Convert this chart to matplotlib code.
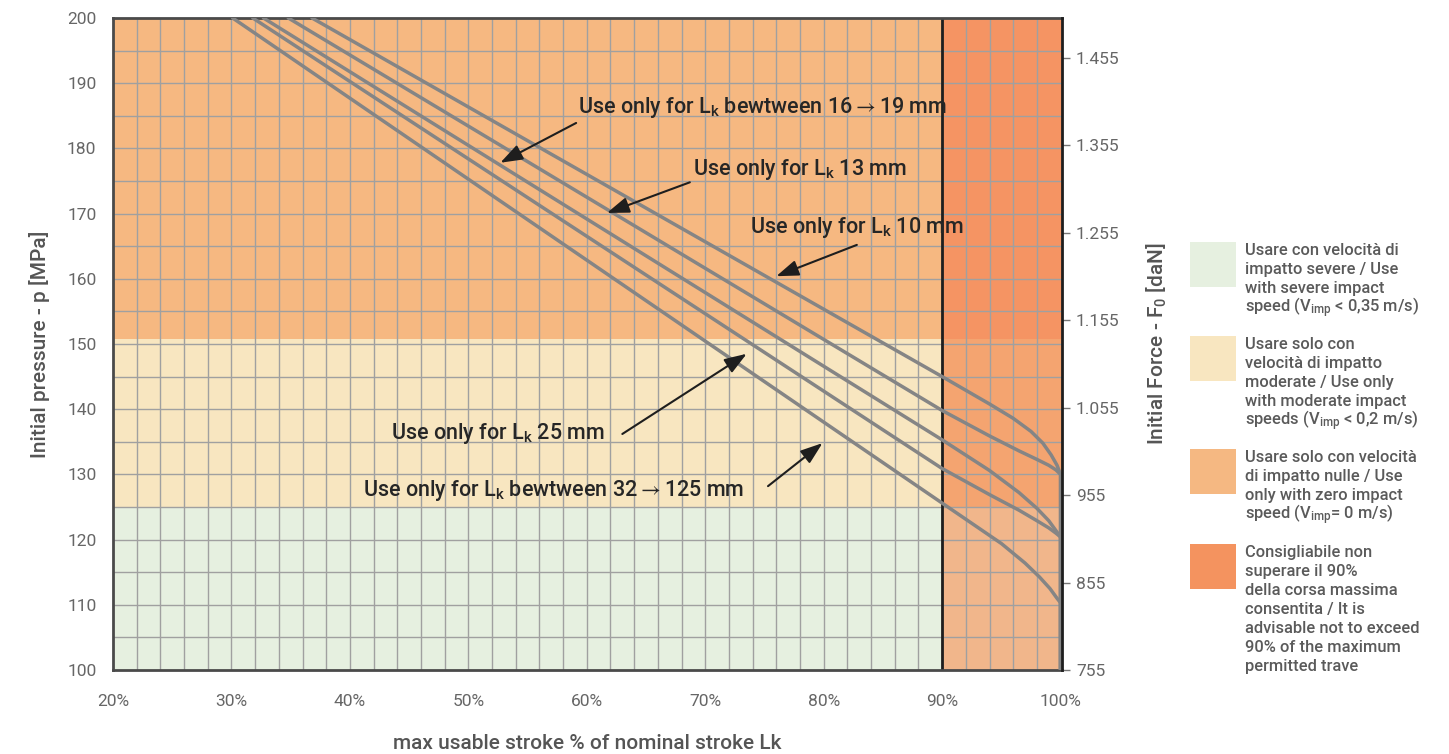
import matplotlib
matplotlib.use('Agg')
import matplotlib.pyplot as plt

plt.rcParams['font.family'] = ['Roboto', 'DejaVu Sans']
plt.rcParams['mathtext.fontset'] = 'custom'
plt.rcParams['mathtext.rm'] = 'Roboto'
plt.rcParams['mathtext.it'] = 'Roboto'
plt.rcParams['mathtext.bf'] = 'Roboto:bold'
plt.rcParams['mathtext.fallback'] = 'stixsans'

# ---------------- data ----------------
band_bounds = [100, 125, 150.7, 200]
band_colors = ['#E6F0E0', '#F8E6C0', '#F6B881']
over90_colors = ['#F1B68B', '#F4A470', '#F59463']

x_ticks = [20, 30, 40, 50, 60, 70, 80, 90, 100]
x_ticklabels = ['20%', '30%', '40%', '50%', '60%', '70%', '80%', '90%', '100%']
y_ticks = [100, 110, 120, 130, 140, 150, 160, 170, 180, 190, 200]
force_ticks = [755, 855, 955, 1055, 1155, 1255, 1355, 1455]
force_ticklabels = ['755', '855', '955', '1.055', '1.155', '1.255', '1.355', '1.455']
force_at_100 = 755
force_at_200 = 1500.75

# curves: stroke % vs initial pressure
c10_x = [36.8, 90, 94, 96, 97.5, 98.5, 99.2, 99.7, 100, 100]
c10_p = [200, 145.0, 140.8, 138.6, 136.6, 134.8, 133.0, 131.4, 130.0, 100]
c13_x = [34.8, 90, 94, 96.5, 98, 99, 99.6, 100, 100]
c13_p = [200, 139.8, 135.9, 133.6, 132.3, 131.4, 130.7, 130.0, 100]
c16_x = [32.7, 90, 94, 96.5, 98, 99, 99.6, 100, 100]
c16_p = [200, 135.3, 130.6, 127.2, 124.8, 122.9, 121.4, 120.4, 100]
c25_x = [31.8, 90, 94, 96.5, 98, 99, 99.6, 100, 100]
c25_p = [200, 130.9, 126.9, 124.5, 122.9, 121.8, 121.0, 120.4, 100]
c32_x = [30.1, 90, 95, 97, 98.2, 99.1, 99.7, 100, 100]
c32_p = [200, 125.6, 119.4, 116.4, 114.3, 112.5, 111.0, 110.3, 100]
curves = [(c10_x, c10_p), (c13_x, c13_p), (c16_x, c16_p), (c25_x, c25_p), (c32_x, c32_p)]

ann_texts = [r'Use only for L$_\mathregular{k}$ bewtween 16$\rightarrow$19 mm',
             r'Use only for L$_\mathregular{k}$ 13 mm',
             r'Use only for L$_\mathregular{k}$ 10 mm',
             r'Use only for L$_\mathregular{k}$ 25 mm',
             r'Use only for L$_\mathregular{k}$ bewtween 32$\rightarrow$125 mm']
ann_text_pos = [(59.3, 186.3), (69.0, 176.7), (73.8, 167.9), (43.5, 136.3), (41.1, 127.6)]
ann_tail = [(59.1, 183.9), (68.7, 174.8), (82.8, 165.2), (63.0, 136.2), (75.3, 128.2)]
ann_tip = [(52.7, 177.8), (61.7, 170.1), (76.0, 160.4), (73.5, 148.5), (79.9, 134.8)]

legend_colors = ['#E6F0E0', '#F8E6C0', '#F5B882', '#F4935F']
legend_lines = [
    ['Usare con velocità di', 'impatto severe / Use', 'with severe impact',
     r'speed (V$_\mathregular{imp}$ < 0,35 m/s)'],
    ['Usare solo con', 'velocità di impatto', 'moderate / Use only', 'with moderate impact',
     r'speeds (V$_\mathregular{imp}$ < 0,2 m/s)'],
    ['Usare solo con velocità', 'di impatto nulle / Use', 'only with zero impact',
     r'speed (V$_\mathregular{imp}$= 0 m/s)'],
    ['Consigliabile non', 'superare il 90%', 'della corsa massima', 'consentita / It is',
     'advisable not to exceed', '90% of the maximum', 'permitted trave'],
]
legend_top_px = [242, 336, 449, 544]

# ---------------- figure ----------------
W, H = 1449, 754
fig = plt.figure(figsize=(W / 100, H / 100), dpi=100)
ax = fig.add_axes([113 / W, 1 - 670 / H, (1062 - 113) / W, (670 - 18) / H])
ax.set_xlim(20, 100.12)
ax.set_ylim(100, 200)

# colour bands
for i in range(3):
    ax.fill_between([20, 90], band_bounds[i], band_bounds[i + 1], color=band_colors[i], lw=0, zorder=0)
    ax.fill_between([90, 100.12], band_bounds[i], band_bounds[i + 1], color=over90_colors[i], lw=0, zorder=0)

# grid
for gx in range(22, 100, 2):
    ax.axvline(gx, color='#a0a0a0', lw=1.0, zorder=1)
for gy in range(105, 200, 5):
    ax.axhline(gy, color='#a0a0a0', lw=1.0, zorder=1)
ax.axvline(90, color='#1e1e1e', lw=2.0, zorder=2)

for cx, cp in curves:
    ax.plot(cx, cp, color='#858585', lw=2.5, solid_joinstyle='round', solid_capstyle='round', zorder=3)

for txt, tp, tl, tip in zip(ann_texts, ann_text_pos, ann_tail, ann_tip):
    ax.text(tp[0], tp[1], txt, fontsize=15.5, fontweight='medium', color='#262626', va='center', ha='left', zorder=5)
    ax.annotate('', xy=tip, xytext=tl,
                arrowprops=dict(arrowstyle='-|>,head_length=0.9,head_width=0.32', color='#1e1e1e', lw=1.5,
                                mutation_scale=15, shrinkA=0, shrinkB=0), zorder=5)

ax.set_xticks(x_ticks)
ax.set_xticklabels(x_ticklabels)
ax.set_yticks(y_ticks)
ax.tick_params(axis='x', length=0, pad=17, labelsize=12.5, labelcolor='#666666')
ax.tick_params(axis='y', length=0, pad=12, labelsize=12.5, labelcolor='#666666')
for s in ['left', 'bottom', 'top']:
    ax.spines[s].set_color('#4a4a4a')
    ax.spines[s].set_linewidth(2.0)
ax.spines['right'].set_visible(False)

ax.set_xlabel('max usable stroke % of nominal stroke Lk', fontsize=15, fontweight='medium',
              color='#555555', labelpad=18)
ax.set_ylabel('Initial pressure - p [MPa]', fontsize=15, fontweight='medium', color='#555555', labelpad=12)

ax2 = ax.twinx()
ax2.set_ylim(force_at_100, force_at_200)
ax2.set_yticks(force_ticks)
ax2.set_yticklabels(force_ticklabels)
ax2.tick_params(axis='y', length=6, width=1, color='#777777', pad=4, labelsize=12.5, labelcolor='#666666')
for s in ['left', 'bottom', 'top']:
    ax2.spines[s].set_visible(False)
ax2.spines['right'].set_color('#1e1e1e')
ax2.spines['right'].set_linewidth(2.0)
ax2.set_ylabel('Initial Force - F$_\\mathregular{0}$ [daN]', fontsize=15, fontweight='medium',
               color='#555555', labelpad=18)

# legend
for col, lines, top in zip(legend_colors, legend_lines, legend_top_px):
    fig.patches.append(plt.Rectangle((1190 / W, 1 - (top + 45) / H), 46 / W, 45 / H,
                                     transform=fig.transFigure, color=col, lw=0))
    for j, line in enumerate(lines):
        fig.text(1245 / W, 1 - (top + 13 + 19 * j) / H, line, fontsize=11.9, fontweight='medium',
                 color='#5a5a5a', va='baseline', ha='left')

fig.savefig('out.png', dpi=100)
